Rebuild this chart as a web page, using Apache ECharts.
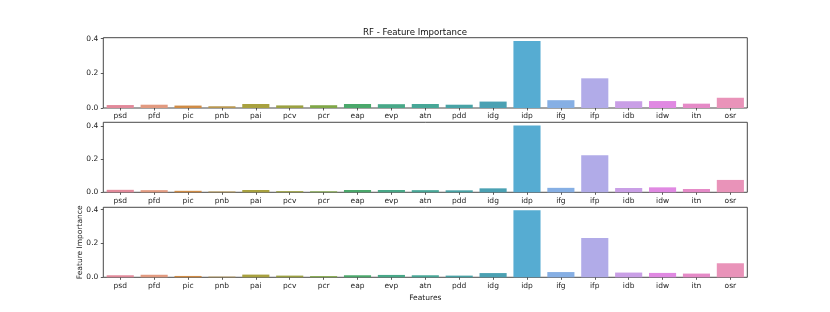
<!DOCTYPE html>
<html><head><meta charset="utf-8">
<script src="https://cdn.jsdelivr.net/npm/echarts@6/dist/echarts.min.js"></script>
<style>html,body{margin:0;padding:0;background:#fff}#c{width:830px;height:312px}</style>
</head><body><div id="c"></div>
<script>
const features = ["psd","pfd","pic","pnb","pai","pcv","pcr","eap","evp","atn","pdd","idg","idp","ifg","ifp","idb","idw","itn","osr"];
const panel1 = [0.017,0.019,0.014,0.010,0.023,0.015,0.016,0.023,0.022,0.023,0.019,0.037,0.386,0.045,0.171,0.039,0.040,0.025,0.059];
const panel2 = [0.015,0.013,0.009,0.005,0.014,0.007,0.006,0.014,0.014,0.013,0.012,0.024,0.404,0.027,0.224,0.026,0.030,0.020,0.075];
const panel3 = [0.012,0.015,0.008,0.004,0.016,0.010,0.007,0.012,0.014,0.012,0.010,0.025,0.396,0.031,0.232,0.028,0.026,0.022,0.083];
const yTicks = [0, 0.2, 0.4];
const colors = ["#e2899a","#e29a80","#cf8b45","#b8974f","#a8a13f","#9ba141","#80a747","#4aa86b","#48a888","#47a797","#48a3a6","#4ba1b3","#56acd2","#86afe4","#b1abe8","#c99fe6","#e089e2","#e58ac7","#e993b9"];
const titleText = "RF - Feature Importance";
const xName = "Features";
const yName = "Feature Importance";

const chart = echarts.init(document.getElementById('c'), null, {renderer:'canvas'});
const panels = [panel1, panel2, panel3];
const maxes = [0.405, 0.424, 0.414];
const tops = [37.7, 122.3, 207.3];
const bottoms = [108, 192.3, 277.3];
const L = 103.3, R = 747.3;
const font = "DejaVu Sans";
const fs = 7.5;
const grids = [], xAxes = [], yAxes = [], series = [];
panels.forEach((vals, i) => {
  grids.push({left: L, width: R - L, top: tops[i], height: bottoms[i] - tops[i], show: true, borderColor: '#333', borderWidth: 0.9, backgroundColor: '#fff'});
  xAxes.push({type:'category', gridIndex:i, data: features,
    axisLine:{show:false}, axisTick:{show:true, alignWithLabel:true, length:2.5, lineStyle:{color:'#333', width:0.8}},
    axisLabel:{fontFamily:font, fontSize:fs, color:'#222', margin:4.5, interval:0},
    name: i === 2 ? xName : '', nameLocation:'middle', nameGap:16.5, nameMoveOverlap:false, nameTextStyle:{fontFamily:font, fontSize:fs, color:'#222'}});
  yAxes.push({type:'value', gridIndex:i, min:0, max:maxes[i],
    axisLine:{show:false}, splitLine:{show:false},
    axisTick:{show:true, length:2.5, customValues: yTicks, lineStyle:{color:'#333', width:0.8}},
    axisLabel:{fontFamily:font, fontSize:fs, color:'#222', margin:5, customValues: yTicks, formatter: v => v.toFixed(1)},
    name: i === 2 ? yName : '', nameLocation:'middle', nameGap:19, nameMoveOverlap:false, nameRotate:90, nameTextStyle:{fontFamily:font, fontSize:fs, color:'#222'}});
  series.push({type:'bar', xAxisIndex:i, yAxisIndex:i, barCategoryGap:'20%',
    data: vals.map((v, k) => ({value: v, itemStyle:{color: colors[k]}})),
    silent:true, animation:false});
});
chart.setOption({
  animation:false,
  title:{text:titleText, left:'center', top:23, textStyle:{fontFamily:font, fontSize:8.6, fontWeight:'normal', color:'#111'}},
  grid: grids, xAxis: xAxes, yAxis: yAxes, series: series
});
</script></body></html>
